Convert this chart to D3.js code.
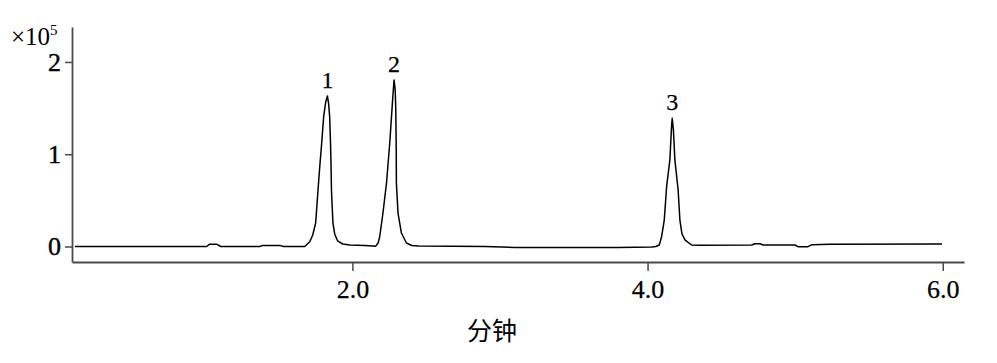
<!DOCTYPE html>
<html>
<head>
<meta charset="utf-8">
<script src="https://cdn.jsdelivr.net/npm/d3@7/dist/d3.min.js"></script>
<style>
  html, body { margin: 0; padding: 0; background: #fff; }
  svg { display: block; }
  .serif { font-family: "Liberation Serif", "Times New Roman", "DejaVu Serif", serif; }
</style>
</head>
<body>
<svg id="chart" width="997" height="363"></svg>
<script>
// ---- Data (time in minutes, intensity in units of 1e5) ----
const times = [
  0.12, 1.012, 1.033, 1.080, 1.107, 1.372, 1.392, 1.507, 1.534, 1.643,
  1.677, 1.711, 1.731, 1.751, 1.767, 1.778, 1.790, 1.805, 1.819, 1.831,
  1.839, 1.846, 1.851, 1.855, 1.858, 1.868, 1.880, 1.900, 1.934, 1.982,
  2.086, 2.158, 2.174, 2.185, 2.207, 2.231, 2.253, 2.271, 2.282, 2.290,
  2.294, 2.297, 2.298, 2.309, 2.332, 2.366, 2.402, 2.45, 2.9, 3.1,
  3.8, 4.03, 4.056, 4.079, 4.095, 4.113, 4.129, 4.151, 4.163, 4.167,
  4.175, 4.185, 4.207, 4.219, 4.233, 4.253, 4.298, 4.355, 4.705, 4.727,
  4.761, 4.784, 4.999, 5.019, 5.087, 5.114, 5.236, 5.995
];
const intensity = [
  0.000, 0.000, 0.025, 0.025, 0.000, 0.000, 0.012, 0.012, 0.000, 0.000,
  0.000, 0.052, 0.125, 0.255, 0.612, 0.851, 1.082, 1.404, 1.566, 1.631,
  1.545, 1.404, 1.154, 0.905, 0.612, 0.255, 0.136, 0.060, 0.027, 0.016,
  0.010, 0.004, 0.038, 0.106, 0.363, 0.688, 1.122, 1.556, 1.805, 1.696,
  1.480, 1.046, 0.688, 0.363, 0.146, 0.038, 0.011, 0.005, 0.000, -0.010,
  -0.012, -0.005, 0.000, 0.016, 0.106, 0.287, 0.648, 0.938, 1.317, 1.390,
  1.263, 0.938, 0.612, 0.287, 0.136, 0.071, 0.016, 0.013, 0.016, 0.030,
  0.030, 0.016, 0.016, -0.002, -0.002, 0.020, 0.024, 0.027
];
const peakLabels = ["1", "2", "3"];
const peakTimes = [1.831, 2.282, 4.167];
const peakHeights = [1.631, 1.805, 1.390];
const xTicks = [2, 4, 6];
const xTickLabels = ["2.0", "4.0", "6.0"];
const yTicks = [0, 1, 2];
const yTickLabels = ["0", "1", "2"];
const xTitle = "分钟";

// ---- Scales ----
const svg = d3.select("#chart");
const x = d3.scaleLinear().domain([0.1, 6.144]).range([72, 964]);
const y = d3.scaleLinear().domain([-0.168, 2.379]).range([262, 27]);

const axisColor = "#4a4a4a";

// ---- X axis ----
const xAxis = svg.append("g")
  .attr("transform", "translate(0,262)")
  .call(d3.axisBottom(x).tickValues(xTicks)
    .tickFormat((d, i) => xTickLabels[i])
    .tickSizeInner(9).tickSizeOuter(0).tickPadding(9));
xAxis.attr("font-family", null).attr("font-size", null);
xAxis.select(".domain").attr("stroke", axisColor).attr("stroke-width", 1.8);
xAxis.selectAll(".tick line").attr("stroke", axisColor).attr("stroke-width", 1.5);
xAxis.selectAll(".tick text")
  .attr("class", "serif").attr("fill", "#000").style("font-size", "26px")
  .attr("stroke", "#000").attr("stroke-width", 0.25);

// ---- Y axis ----
const yAxis = svg.append("g")
  .attr("transform", "translate(72,0)")
  .call(d3.axisLeft(y).tickValues(yTicks)
    .tickFormat((d, i) => yTickLabels[i])
    .tickSizeInner(7).tickSizeOuter(0).tickPadding(4));
yAxis.attr("font-family", null).attr("font-size", null);
yAxis.select(".domain").attr("stroke", axisColor).attr("stroke-width", 1.8);
yAxis.selectAll(".tick line").attr("stroke", axisColor).attr("stroke-width", 1.5);
yAxis.selectAll(".tick text")
  .attr("class", "serif").attr("fill", "#000").style("font-size", "26px")
  .attr("stroke", "#000").attr("stroke-width", 0.4);

// ---- Exponent label ----
const expo = svg.append("text")
  .attr("class", "serif")
  .attr("x", 11).attr("y", 45)
  .style("font-size", "25px").attr("fill", "#000");
expo.append("tspan").text("×10");
expo.append("tspan").attr("dy", -10).style("font-size", "15px").text("5");

// ---- Trace ----
const pts = times.map((t, i) => [t, intensity[i]]);
svg.append("path")
  .datum(pts)
  .attr("fill", "none")
  .attr("stroke", "#000")
  .attr("stroke-width", 1.5)
  .attr("stroke-linejoin", "round")
  .attr("d", d3.line().x(d => x(d[0])).y(d => y(d[1])));

// ---- Peak labels ----
svg.selectAll(".plabel")
  .data(peakLabels)
  .join("text")
  .attr("class", "plabel serif")
  .attr("x", (d, i) => x(peakTimes[i]))
  .attr("y", (d, i) => y(peakHeights[i]) - 8)
  .attr("text-anchor", "middle")
  .style("font-size", "24px")
  .attr("fill", "#000")
  .attr("stroke", "#000").attr("stroke-width", 0.25)
  .text(d => d);

// ---- X title ----
svg.append("text")
  .attr("x", 492).attr("y", 329)
  .attr("text-anchor", "middle")
  .attr("dominant-baseline", "central")
  .style("font-family", "'Noto Sans CJK SC', sans-serif")
  .style("font-size", "25px")
  .attr("fill", "#000")
  .text(xTitle);
</script>
</body>
</html>
